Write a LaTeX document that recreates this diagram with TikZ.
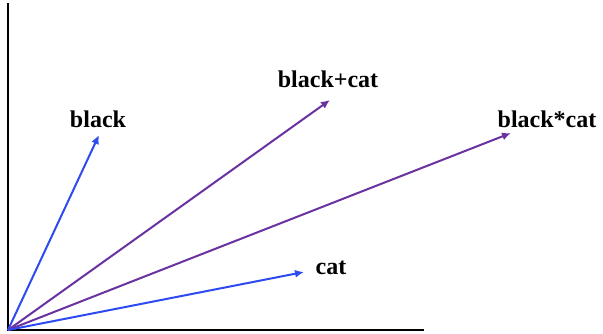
\documentclass[tikz,border=0pt]{standalone}
\usepackage{fontspec}
\setmainfont{Liberation Serif}
\usetikzlibrary{arrows.meta}
\definecolor{vblue}{RGB}{45,75,240}
\definecolor{vpurple}{RGB}{105,50,160}
\tikzset{
  axis/.style={line width=2pt, black},
  vec/.style={line width=2pt, -{Latex[length=9pt,width=8pt]}},
  lbl/.style={font=\fontsize{24}{28}\selectfont\bfseries, inner sep=0pt}
}
\begin{document}
\begin{tikzpicture}[x=1pt,y=-1pt]
\useasboundingbox (0,0) rectangle (603,333);
\coordinate (top) at (8,3);
\coordinate (o) at (8,330);
\coordinate (right) at (424,330);
\draw[axis] (top) -- (o) -- (right);
\node[lbl] (lb) at (98,119) {black};
\node[lbl] (lbc) at (328,79) {black+cat};
\node[lbl] (lbm) at (547,119) {black*cat};
\node[lbl] (lc) at (331,268) {cat};
\coordinate (eb) at (99,135);
\coordinate (ebc) at (330,100);
\coordinate (ebm) at (511,133);
\coordinate (ec) at (304,272);
\draw[vec, vblue] (o) -- (eb);
\draw[vec, vpurple] (o) -- (ebc);
\draw[vec, vpurple] (o) -- (ebm);
\draw[vec, vblue] (o) -- (ec);
\end{tikzpicture}
\end{document}
